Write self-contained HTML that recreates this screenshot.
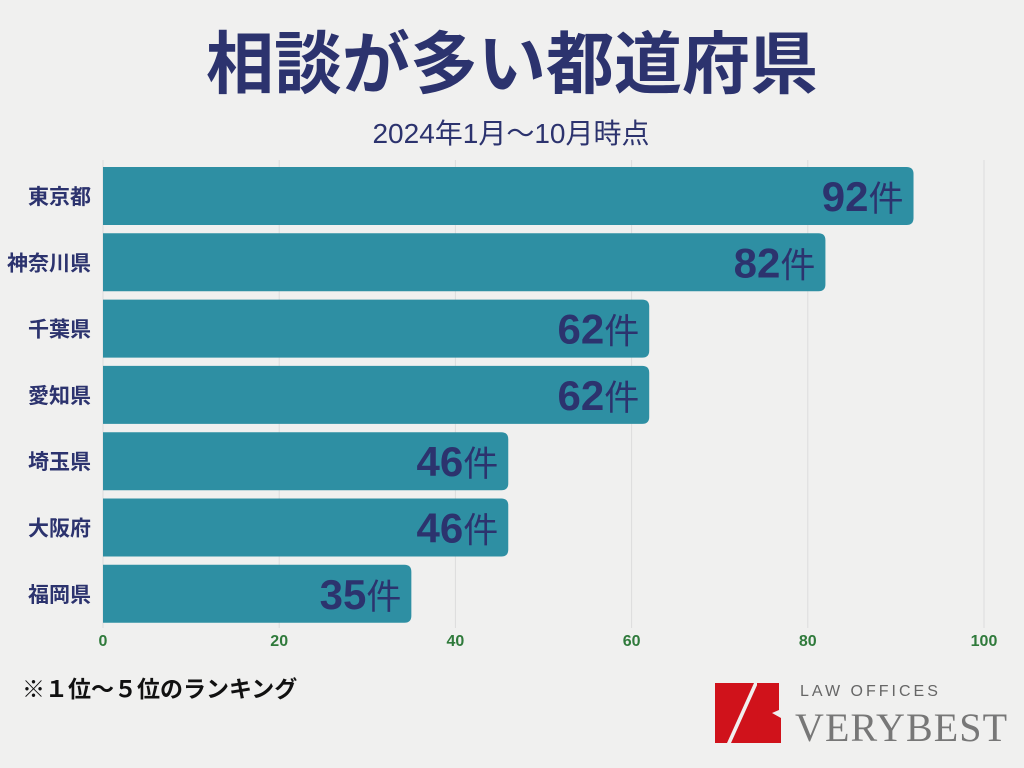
<!DOCTYPE html>
<html><head><meta charset="utf-8"><style>
body{margin:0;width:1024px;height:768px;background:#f0f0ef;overflow:hidden;font-family:"Liberation Sans","Noto Sans CJK JP",sans-serif}
svg{display:block}
</style></head><body>
<svg id="c" width="1024" height="768" xmlns="http://www.w3.org/2000/svg">
<text x="512" y="88" text-anchor="middle" font-size="68" font-weight="bold" fill="#2c336e" font-family="Noto Sans CJK JP,sans-serif">相談が多い都道府県</text>
<text x="511" y="143" text-anchor="middle" font-size="28" fill="#2c336e" font-family="Liberation Sans,Noto Sans CJK JP,sans-serif">2024年1月～10月時点</text>
<g id="grid"></g><g id="bars"></g><g id="xt"></g>
<text x="22" y="697" font-size="23" font-weight="bold" fill="#111" font-family="Noto Sans CJK JP,sans-serif">※１位～５位のランキング</text>
<g>
<polygon points="715,683 754,683 727,743 715,743" fill="#d0121b"/>
<polygon points="758,683 768,683 768,743 731,743" fill="#d0121b"/>
<polygon points="757,683 779,683 779,710 772,713 781,718 781,743 758,743" fill="#d0121b"/>
<text x="800" y="696" font-size="16" letter-spacing="3" fill="#666">LAW OFFICES</text>
<text x="795" y="741" font-size="40" font-family="Liberation Serif,serif" fill="#777" textLength="212">VERYBEST</text>
</g>
</svg>
<script>
const categories=["東京都","神奈川県","千葉県","愛知県","埼玉県","大阪府","福岡県"];
const values=[92,82,62,62,46,46,35];
const ticks=[0,20,40,60,80,100];
const NS="http://www.w3.org/2000/svg";
const x=v=>103+v*8.81;
const rowY=i=>167+i*66.3;
function mk(t,a,p){const e=document.createElementNS(NS,t);for(const k in a)e.setAttribute(k,a[k]);p.appendChild(e);return e;}
const g=document.getElementById('grid'),b=document.getElementById('bars'),xt=document.getElementById('xt');
ticks.forEach(t=>{
 const l=mk('line',{x1:x(t),x2:x(t),y1:160,y2:628,stroke:'#dcdcdc','stroke-width':1},g);
 
 
 const tx=mk('text',{x:x(t),y:646,'text-anchor':'middle','font-size':16,'font-weight':'bold',fill:'#2f7a3b'},xt);
 tx.textContent=t;
 
 
});
values.forEach((v,i)=>{
 const y=rowY(i),h=58;
 const p=mk('path',{d:`M${x(0)},${y}H${x(v)-7}Q${x(v)},${y} ${x(v)},${y+7}V${y+h-7}Q${x(v)},${y+h} ${x(v)-7},${y+h}H${x(0)}Z`,fill:'#2e8fa3'},b);
 
 
 const lb=mk('text',{x:91,y:y+37,'text-anchor':'end','font-size':21,'font-weight':'bold',fill:'#2c336e','font-family':'Noto Sans CJK JP,sans-serif'},b);
 lb.textContent=categories[i];
 
 
 const vt=mk('text',{x:x(v)-10,y:y+44,'text-anchor':'end',fill:'#2c336e','font-family':'Liberation Sans,Noto Sans CJK JP,sans-serif'},b);
 
 
 const n=mk('tspan',{'font-size':42,'font-weight':'bold'},vt);n.textContent=v;
 const u=mk('tspan',{'font-size':35,'font-family':'Noto Sans CJK JP,sans-serif'},vt);u.textContent='件';
});
</script>
</body></html>
